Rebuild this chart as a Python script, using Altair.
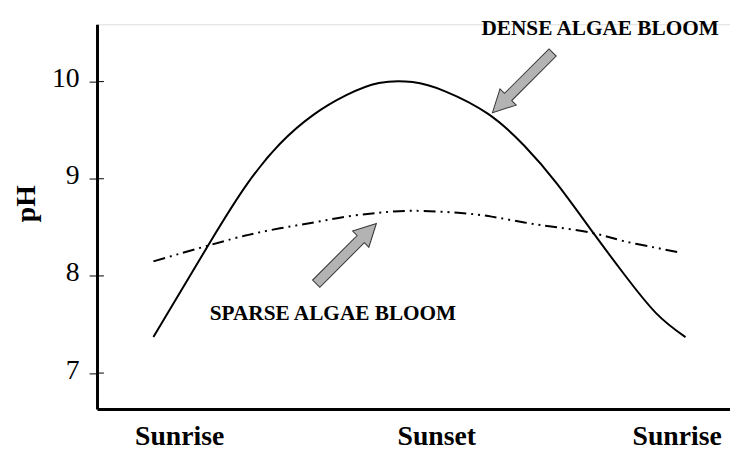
import altair as alt
import pandas as pd

# ---- data ----
dense_t = [0, 2.59, 4.24, 5.71, 7.23, 8.70, 10.17, 11.69, 13.16, 15.08, 16.73, 18.20, 19.85, 21.19, 22.66, 24]
dense_ph = [7.37, 8.36, 8.95, 9.36, 9.66, 9.86, 9.985, 9.995, 9.90, 9.67, 9.34, 8.95, 8.44, 8.03, 7.62, 7.37]

sparse_t = [0, 2.59, 4.24, 5.71, 7.23, 8.70, 10.17, 11.69, 13.74, 15.26, 16.73, 18.20, 19.85, 21.19, 22.66, 23.73]
sparse_ph = [8.15, 8.32, 8.42, 8.49, 8.55, 8.61, 8.65, 8.67, 8.65, 8.61, 8.55, 8.50, 8.44, 8.36, 8.29, 8.24]

x_label_pos = [1.16, 12.76, 23.60]
x_label_text = ["Sunrise", "Sunset", "Sunrise"]
y_ticks = [7, 8, 9, 10]

note_text = ["DENSE ALGAE BLOOM", "SPARSE ALGAE BLOOM"]
note_t = [20.15, 8.10]
note_ph = [10.537, 7.604]

arrow_t = [16.65, 8.70]
arrow_ph = [9.99, 8.23]
arrow_angle = [225, 45]

FONT = "Liberation Serif"

dense = pd.DataFrame({"t": dense_t, "ph": dense_ph})
sparse = pd.DataFrame({"t": sparse_t, "ph": sparse_ph})
notes = pd.DataFrame({"t": note_t, "ph": note_ph, "txt": note_text})
arrows = pd.DataFrame({"t": arrow_t, "ph": arrow_ph, "ang": arrow_angle})
ticks = pd.DataFrame({"ph": y_ticks})

label_expr = " : ".join(
    [f"abs(datum.value - {p}) < 0.01 ? '{s}'" for p, s in zip(x_label_pos, x_label_text)]
) + " : ''"

xscale = alt.Scale(domain=[-2.543, 26.007], nice=False, zero=False)
yscale = alt.Scale(domain=[6.63, 10.59], nice=False, zero=False)

x_axis = alt.Axis(
    values=x_label_pos, labelExpr=label_expr, title=None, grid=False,
    ticks=False, tickSize=0, labelPadding=36, labelBaseline="alphabetic",
    labelFont=FONT, labelFontSize=28, labelFontWeight="bold", labelColor="black",
    domainColor="black", domainWidth=3, labelFlush=False, labelOverlap=False, labelBound=False,
)
y_axis = alt.Axis(
    values=y_ticks, format="d", title="pH", grid=False, tickSize=8, tickColor="black", tickWidth=1,
    labelPadding=10, labelFont=FONT, labelFontSize=28, labelColor="black", labelOffset=-3,
    domainColor="black", domainWidth=3,
    titleFont=FONT, titleFontSize=28, titleFontWeight="bold", titleColor="black",
    titleAngle=-90, titleAlign="center", titleBaseline="middle", titleX=-71, titleY=181,
)

X = alt.X("t:Q", scale=xscale, axis=x_axis)
Y = alt.Y("ph:Q", scale=yscale, axis=y_axis)

dense_line = alt.Chart(dense).mark_line(color="black", strokeWidth=2, interpolate="natural").encode(x=X, y=Y)
sparse_line = alt.Chart(sparse).mark_line(
    color="black", strokeWidth=2, interpolate="natural", strokeDash=[12, 5, 2, 5, 2, 5]
).encode(x=alt.X("t:Q", scale=xscale), y=alt.Y("ph:Q", scale=yscale))

inner_ticks = alt.Chart(ticks).mark_rule(color="black", strokeWidth=1).encode(
    y=alt.Y("ph:Q", scale=yscale), x=alt.value(0), x2=alt.value(7)
)

arrow_path = "M 0 -1 L 0.27 -0.48 L 0.12 -0.48 L 0.12 1 L -0.12 1 L -0.12 -0.48 L -0.27 -0.48 Z"
arrow_marks = alt.Chart(arrows).mark_point(
    shape=arrow_path, size=7400, filled=True, fill="#b3b3b3", stroke="#333333",
    strokeWidth=1, opacity=1, fillOpacity=1,
).encode(
    x=alt.X("t:Q", scale=xscale), y=alt.Y("ph:Q", scale=yscale),
    angle=alt.Angle("ang:Q", scale=None),
)

note_marks = alt.Chart(notes).mark_text(
    font=FONT, fontSize=21.5, fontWeight="bold", color="black", align="center", baseline="middle"
).encode(x=alt.X("t:Q", scale=xscale), y=alt.Y("ph:Q", scale=yscale), text="txt:N")

chart = alt.layer(dense_line, sparse_line, inner_ticks, arrow_marks, note_marks).properties(
    width=640, height=389,
    autosize=alt.AutoSizeParams(type="none"),
    padding={"left": 90, "top": 14, "right": 0, "bottom": 40},
).configure_view(stroke=None).configure(background="white")

chart.save("out.html", embed_options={"renderer": "svg", "actions": False})
